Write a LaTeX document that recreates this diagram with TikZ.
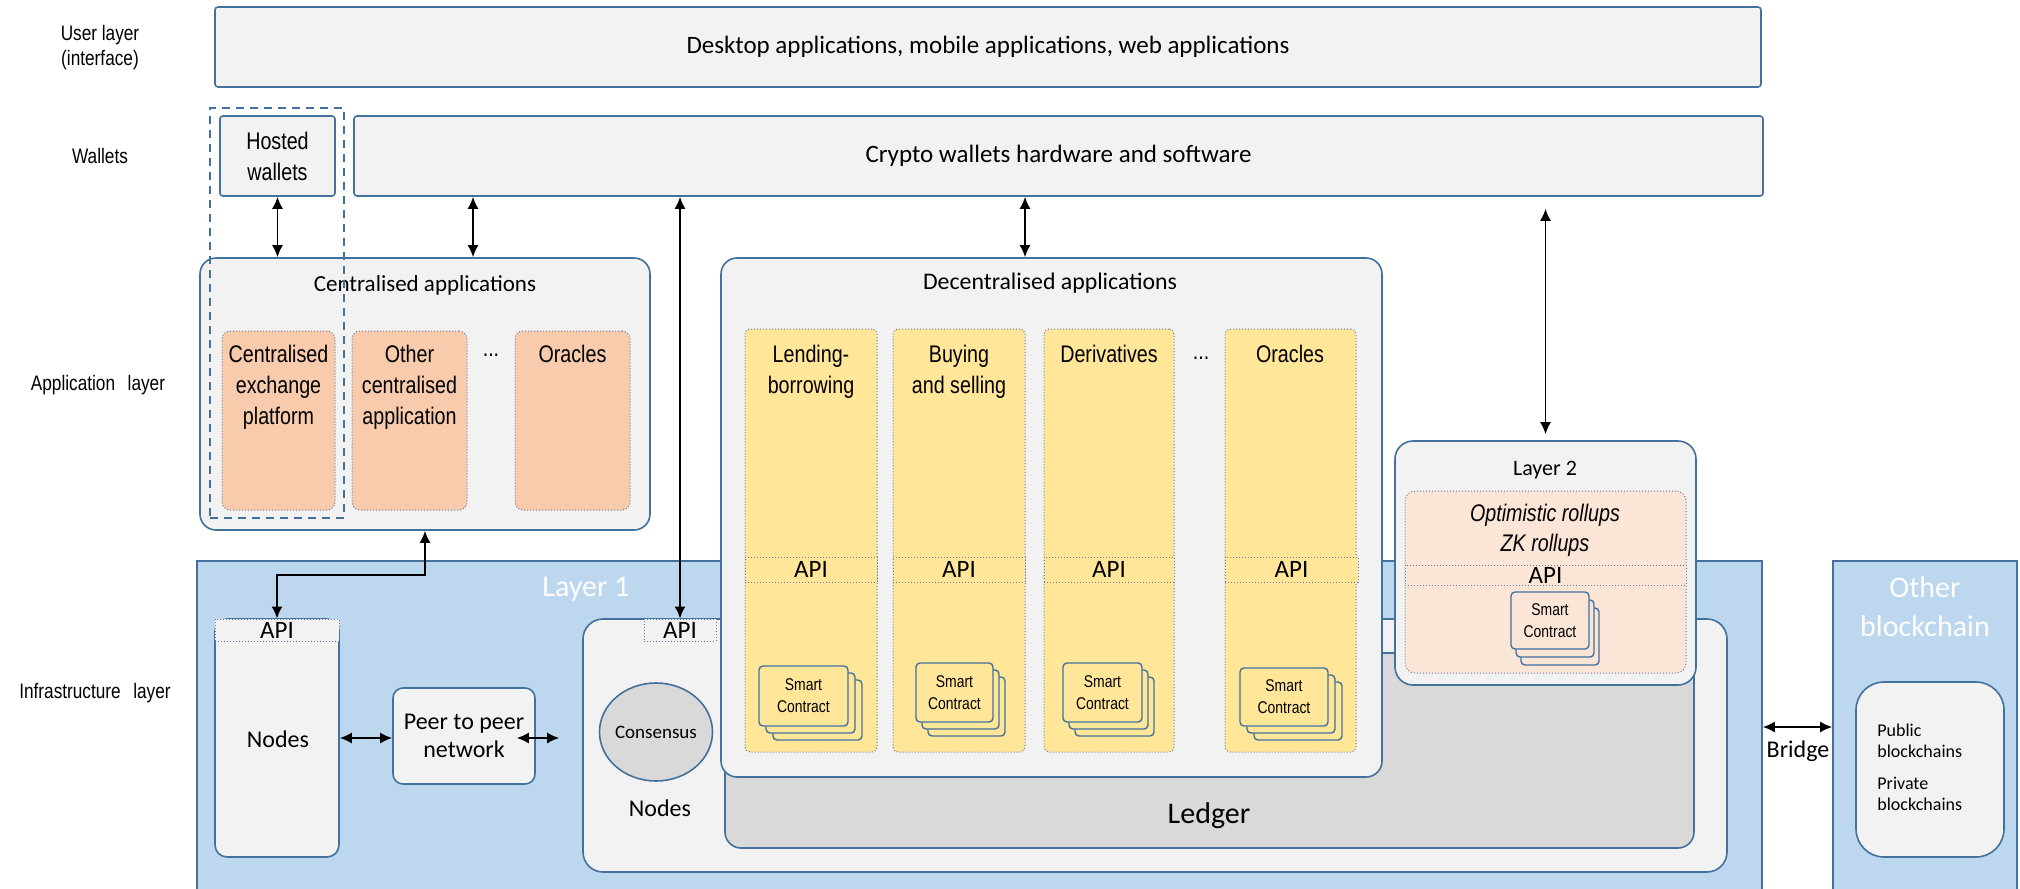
\documentclass[tikz,border=0pt]{standalone}
\usepackage{fontspec}
\setmainfont{Carlito}
\newfontfamily\narrow[FakeStretch=0.82]{Liberation Sans}
\usetikzlibrary{fit,arrows.meta,calc,shapes.geometric}
\definecolor{bord}{RGB}{65,113,156}
\definecolor{lgray}{RGB}{242,242,242}
\definecolor{lblue}{RGB}{189,215,238}
\definecolor{dgray}{RGB}{217,217,217}
\definecolor{yel}{RGB}{255,230,153}
\definecolor{org}{RGB}{248,203,173}
\definecolor{peach}{RGB}{251,229,214}
\definecolor{dotc}{RGB}{105,125,155}
\newcommand\fz[2]{\fontsize{#1pt}{#2pt}\selectfont}
\newcommand\scstack[8]{%
  \draw[card, fill=#6] (#2+2*#7,#3+2*#8) rectangle (#4+2*#7,#5+2*#8);
  \draw[card, fill=#6] (#2+#7,#3+#8) rectangle (#4+#7,#5+#8);
  \node[card, fill=#6, fit={(#2,#3) (#4,#5)}] (#1) {};
  \node[font={\narrow\fz{8.5}{11}}, align=center, inner sep=0pt] (#1t) at (#1.center) {Smart\\Contract};
}
\begin{document}
\begin{tikzpicture}[x=0.5pt,y=-0.5pt,
  box/.style={draw=bord, fill=lgray, line width=0.8pt, inner sep=0pt},
  rbox/.style={box, rounded corners=#1},
  rbox/.default=7pt,
  dbox/.style={draw=dotc, densely dotted, line width=0.5pt, inner sep=0pt, rounded corners=2.5pt},
  apistrip/.style={dbox, rounded corners=0pt},
  apitxt/.style={font=\fz{12.5}{14}, inner sep=0pt},
  card/.style={draw=bord, line width=0.7pt, rounded corners=2pt, inner sep=0pt},
  arr/.style={{Latex[length=6pt,width=5.5pt]}-{Latex[length=6pt,width=5.5pt]}, line width=0.8pt},
  lbl/.style={font={\narrow\fz{10.5}{12.5}}, align=center},
  coltxt/.style={font={\narrow\fz{12}{15.5}}, align=center, inner sep=0pt, anchor=north},
  ttl/.style={font=\fz{12.5}{14}}
]
\useasboundingbox (0,0) rectangle (2020,889);

% Layer 1 and other blockchain
\node[box, fill=lblue, fit={(197,561) (1762,905)}] (l1) {};
\node[font=\fz{15}{18}, text=white] (l1t) at (586,589) {Layer 1};
\node[box, fill=lblue, fit={(1833,561) (2017,905)}] (ob) {};
\node[font=\fz{15}{19.5}, text=white, align=center] (obt) at (1925,607) {Other\\blockchain};
\node[rbox=14pt, fit={(1856,682) (2004,857)}] (obi) {};
\node[font=\fz{9}{10.5}, align=left, anchor=west, inner sep=0pt] (pub) at (1877,741) {Public\\blockchains};
\node[font=\fz{9}{10.5}, align=left, anchor=west, inner sep=0pt] (priv) at (1877,794) {Private\\blockchains};

% Left nodes
\node[rbox=6pt, fit={(215,619) (339,857)}] (n1) {};
\node[apistrip, fill=lgray, fit={(215,619) (339,641)}] (api1) {};
\node[apitxt] (api1t) at (api1.center) {API};
\node[font=\fz{12}{14}] (n1t) at (278,739) {Nodes};
\node[rbox=5pt, fit={(393,688) (535,784)}] (p2p) {};
\node[font=\fz{12}{14}, align=center] (p2pt) at (p2p.center) {Peer to peer\\network};

% Right nodes
\node[rbox=10pt, fit={(583,619) (1727,872)}] (n2) {};
\node[apistrip, fill=lgray, fit={(644,619) (716,641)}] (api2) {};
\node[apitxt] (api2t) at (api2.center) {API};
\node[ellipse, draw=bord, fill=dgray, line width=0.8pt, minimum width=56.5pt, minimum height=49pt, inner sep=0pt] (cons) at (656,732) {};
\node[font=\fz{9.5}{11}] (const) at (cons.center) {Consensus};
\node[font=\fz{12}{14}] (n2t) at (660,808) {Nodes};
\node[box, fill=dgray, rounded corners=8pt, fit={(725,653) (1694,848)}] (ledger) {};
\node[font=\fz{15}{18}] (ledt) at (1209,816) {Ledger};

% Decentralised applications
\node[rbox=8pt, fit={(721,258) (1382,777)}] (dapps) {};
\node[font=\fz{11.9}{14}] (dappst) at (1050,283) {Decentralised applications};
\node[dbox, fill=yel, fit={(745,329) (877,752)}] (c1) {};
\node[dbox, fill=yel, fit={(893,329) (1025,752)}] (c2) {};
\node[dbox, fill=yel, fit={(1044,329) (1174,752)}] (c3) {};
\node[dbox, fill=yel, fit={(1225,329) (1356,752)}] (c4) {};
\node[apistrip, fill=yel, fit={(745,557) (877,582)}] (c1api) {};
\node[apistrip, fill=yel, fit={(893,557) (1025,582)}] (c2api) {};
\node[apistrip, fill=yel, fit={(1044,557) (1174,582)}] (c3api) {};
\node[apistrip, fill=yel, fit={(1225,557) (1358,582)}] (c4api) {};
\node[apitxt] (c1apit) at (c1api.center) {API};
\node[apitxt] (c2apit) at (c2api.center) {API};
\node[apitxt] (c3apit) at (c3api.center) {API};
\node[apitxt] (c4apit) at (c4api.center) {API};
\node[coltxt] (c1t) at (811,345) {Lending-\\borrowing};
\node[coltxt] (c2t) at (959,345) {Buying\\and selling};
\node[coltxt] (c3t) at (1109,345) {Derivatives};
\node[coltxt] (c4t) at (1290,345) {Oracles};
\node[font={\narrow\fz{12}{14}}] (dd) at (1201,358) {...};
\scstack{sc1}{759}{666}{848}{726}{yel}{7}{7}
\scstack{sc2}{916}{663}{993}{722}{yel}{6}{7}
\scstack{sc3}{1063}{663}{1142}{722}{yel}{6}{7}
\scstack{sc4}{1240}{668}{1328}{726}{yel}{7}{7}

% Layer 2
\node[rbox=9pt, fit={(1395,441) (1696,685)}] (l2) {};
\node[font=\fz{11}{13}] (l2t) at (1545,470) {Layer 2};
\node[dbox, fill=peach, rounded corners=5pt, fit={(1405,491) (1686,673)}] (l2i) {};
\node[font={\narrow\itshape\fz{12}{15}}, align=center] (roll) at (1545,530) {Optimistic rollups\\ZK rollups};
\node[apistrip, fill=peach, fit={(1405,565) (1686,585)}] (l2api) {};
\node[apitxt] (l2apit) at (l2api.center) {API};
\scstack{sc5}{1511}{592}{1589}{649}{peach}{5}{8}

% Top rows
\node[box, rounded corners=1.5pt, fit={(215,7) (1761,87)}] (user) {};
\node[ttl] (usert) at (user.center) {Desktop applications, mobile applications, web applications};
\node[box, rounded corners=1.5pt, fit={(220,116) (335,196)}] (hosted) {};
\node[font={\narrow\fz{12}{15.5}}, align=center] (hostedt) at (hosted.center) {Hosted\\wallets};
\node[box, rounded corners=1.5pt, fit={(354,116) (1763,196)}] (crypto) {};
\node[ttl] (cryptot) at (crypto.center) {Crypto wallets hardware and software};

% Centralised applications
\node[rbox=8pt, fit={(200,258) (650,530)}] (capps) {};
\node[font=\fz{11.5}{14}] (cappst) at (425,285) {Centralised applications};
\node[dbox, fill=org, rounded corners=4pt, fit={(222,331) (335,510)}] (cex) {};
\node[dbox, fill=org, rounded corners=4pt, fit={(352,331) (467,510)}] (oca) {};
\node[dbox, fill=org, rounded corners=4pt, fit={(515,331) (630,510)}] (cor) {};
\node[coltxt] (cext) at (278.5,345) {Centralised\\exchange\\platform};
\node[coltxt] (ocat) at (409.5,345) {Other\\centralised\\application};
\node[coltxt] (cort) at (572.5,345) {Oracles};
\node[font={\narrow\fz{12}{14}}] (cd) at (491,355) {...};
\node[draw=bord, dash pattern=on 4pt off 3pt, line width=0.7pt, inner sep=0pt, fit={(210,108) (344,518)}] (hw) {};

% Left labels
\node[lbl] (lab1) at (100,48) {User layer\\(interface)};
\node[lbl] (lab2) at (100,156) {Wallets};
\node[lbl] (lab3) at (98,385) {Application\hspace{0.6em}layer};
\node[lbl] (lab4) at (95,693) {Infrastructure\hspace{0.6em}layer};

% Connectors
\coordinate (xa) at (473,0);
\coordinate (xb) at (1025,0);
\coordinate (yb) at (0,727);
\draw[arr] (hosted.south) -- (hosted.south |- capps.north);
\draw[arr] (crypto.south -| xa) -- (capps.north -| xa);
\draw[arr] (crypto.south -| api2.north) -- (api2.north);
\draw[arr] (crypto.south -| xb) -- (dapps.north -| xb);
\draw[arr, shorten <=6pt, shorten >=3pt] (crypto.south -| l2.north) -- (l2.north);
\draw[arr] (capps.south) -- ++(0,44) -| (api1.north);
\draw[arr] (n1.east) -- (n1.east -| p2p.west);
\coordinate (pe) at ($(p2p.east)+(-19,2)$);
\coordinate (ne) at ($(pe -| n2.west)+(-23,0)$);
\draw[arr] (pe) -- (ne);
\draw[arr] (l1.east |- yb) -- (ob.west |- yb);
\node[font=\fz{12}{14}] (bridge) at (1798,751) {Bridge};
\end{tikzpicture}
\end{document}
